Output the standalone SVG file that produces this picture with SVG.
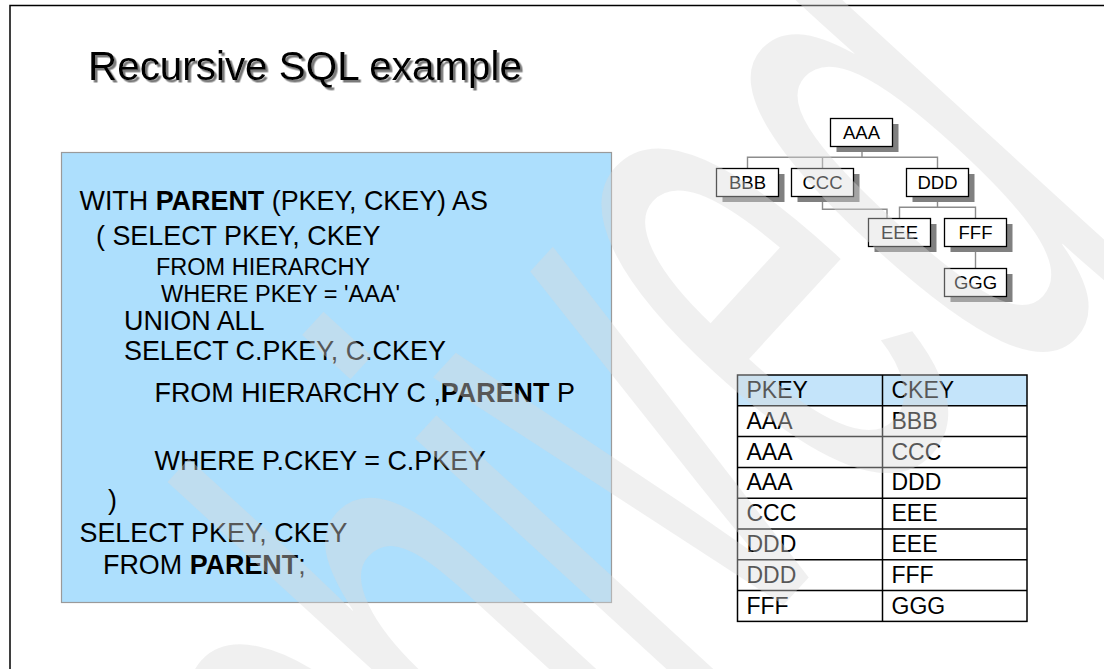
<svg xmlns="http://www.w3.org/2000/svg" width="1104" height="669" viewBox="0 0 1104 669">
  <defs>
    <filter id="titleShadow" x="-5%" y="-20%" width="110%" height="150%">
      <feDropShadow dx="2.5" dy="2.5" stdDeviation="0.7" flood-color="#7a7a7a" flood-opacity="1"/>
    </filter>
  </defs>
  <style>
    text { font-family: "Liberation Sans", Arial, sans-serif; fill: #000; }
    .code { font-size: 26.9px; }
    .code-sm { font-size: 23.5px; }
    .b { font-weight: bold; }
    .node-shadow { fill: #808080; }
    .node-box { fill: #ffffff; stroke: #000; stroke-width: 1.3; }
    .node-label { font-size: 18.5px; text-anchor: middle; }
    .link { fill: none; stroke: #8c8c8c; stroke-width: 1.4; }
    .cell { font-size: 23px; }
    .grid { stroke: #000; stroke-width: 1.5; fill: none; }
    .wm { font-size: 780px; fill: #d9d9d9; fill-opacity: 0.4; }
  </style>

  <!-- page background and frame -->
  <rect x="0" y="0" width="1104" height="669" fill="#ffffff"/>
  <path d="M10 669 V5.5 H1104" fill="none" stroke="#000" stroke-width="1.5"/>

  <!-- title -->
  <g id="title">
    <text x="88" y="80" font-size="40" textLength="434" lengthAdjust="spacingAndGlyphs" filter="url(#titleShadow)">Recursive SQL example</text>
  </g>

  <!-- SQL statement panel -->
  <g id="sql-box">
    <rect x="61.5" y="152.5" width="550" height="450" fill="#addffd" stroke="#9a9a9a" stroke-width="1.2"/>
    <text class="code" x="79.5" y="210">WITH <tspan class="b">PARENT</tspan> (PKEY, CKEY) AS</text>
    <text class="code" x="96" y="245">( SELECT PKEY, CKEY</text>
    <text class="code-sm" x="156" y="275">FROM HIERARCHY</text>
    <text class="code-sm" x="161" y="302">WHERE PKEY = 'AAA'</text>
    <text class="code" x="124" y="330">UNION ALL</text>
    <text class="code" x="124" y="360">SELECT C.PKEY, C.CKEY</text>
    <text class="code" x="154.5" y="402">FROM HIERARCHY C ,<tspan class="b">PARENT</tspan> P</text>
    <text class="code" x="154.5" y="470">WHERE P.CKEY = C.PKEY</text>
    <text class="code" x="108" y="509">)</text>
    <text class="code" x="79.5" y="542">SELECT PKEY, CKEY</text>
    <text class="code" x="103" y="574">FROM <tspan class="b">PARENT</tspan>;</text>
  </g>

  <!-- hierarchy tree connectors -->
  <g id="connectors">
    <path class="link" d="M862 146.5 V157.3 M747.5 168.5 V157.3 H937.5 V168.5 M822.5 157.3 V168.5"/>
    <path class="link" d="M822.5 196.5 V209.3 H887 V218.5"/>
    <path class="link" d="M937.5 196.5 V207.3 M899.5 218.5 V207.3 H975.5 V218.5"/>
    <path class="link" d="M975.5 246.5 V268.5"/>
  </g>

  <!-- hierarchy tree nodes -->
  <g id="node-aaa">
    <rect class="node-shadow" x="836.5" y="124" width="62" height="28"/>
    <rect class="node-box" x="830.5" y="118.5" width="62" height="28"/>
    <text class="node-label" x="861.5" y="139.2">AAA</text>
  </g>
  <g id="node-bbb">
    <rect class="node-shadow" x="722.5" y="174" width="62" height="28"/>
    <rect class="node-box" x="716.5" y="168.5" width="62" height="28"/>
    <text class="node-label" x="747.5" y="189.2">BBB</text>
  </g>
  <g id="node-ccc">
    <rect class="node-shadow" x="797.5" y="174" width="62" height="28"/>
    <rect class="node-box" x="791.5" y="168.5" width="62" height="28"/>
    <text class="node-label" x="822.5" y="189.2">CCC</text>
  </g>
  <g id="node-ddd">
    <rect class="node-shadow" x="912.5" y="174" width="62" height="28"/>
    <rect class="node-box" x="906.5" y="168.5" width="62" height="28"/>
    <text class="node-label" x="937.5" y="189.2">DDD</text>
  </g>
  <g id="node-eee">
    <rect class="node-shadow" x="874.5" y="224" width="62" height="28"/>
    <rect class="node-box" x="868.5" y="218.5" width="62" height="28"/>
    <text class="node-label" x="899.5" y="239.2">EEE</text>
  </g>
  <g id="node-fff">
    <rect class="node-shadow" x="950.5" y="224" width="62" height="28"/>
    <rect class="node-box" x="944.5" y="218.5" width="62" height="28"/>
    <text class="node-label" x="975.5" y="239.2">FFF</text>
  </g>
  <g id="node-ggg">
    <rect class="node-shadow" x="950.5" y="274" width="62" height="28"/>
    <rect class="node-box" x="944.5" y="268.5" width="62" height="28"/>
    <text class="node-label" x="975.5" y="289.2">GGG</text>
  </g>

  <!-- result table -->
  <g id="result-table">
    <rect x="737.5" y="375" width="289.5" height="30.8" fill="#c4e4fa"/>
    <rect x="737.5" y="405.8" width="289.5" height="215.6" fill="#ffffff"/>
    <rect class="grid" x="737.5" y="375" width="289.5" height="246.4"/>
    <path class="grid" d="M882.5 375 V621.4 M737.5 405.8 H1027 M737.5 436.6 H1027 M737.5 467.4 H1027 M737.5 498.2 H1027 M737.5 529 H1027 M737.5 559.8 H1027 M737.5 590.6 H1027"/>
    <text class="cell" x="746.5" y="398">PKEY</text>
    <text class="cell" x="891.5" y="398">CKEY</text>
    <text class="cell" x="746.5" y="428.8">AAA</text>
    <text class="cell" x="891.5" y="428.8">BBB</text>
    <text class="cell" x="746.5" y="459.6">AAA</text>
    <text class="cell" x="891.5" y="459.6">CCC</text>
    <text class="cell" x="746.5" y="490.4">AAA</text>
    <text class="cell" x="891.5" y="490.4">DDD</text>
    <text class="cell" x="746.5" y="521.2">CCC</text>
    <text class="cell" x="891.5" y="521.2">EEE</text>
    <text class="cell" x="746.5" y="552">DDD</text>
    <text class="cell" x="891.5" y="552">EEE</text>
    <text class="cell" x="746.5" y="582.8">DDD</text>
    <text class="cell" x="891.5" y="582.8">FFF</text>
    <text class="cell" x="746.5" y="613.6">FFF</text>
    <text class="cell" x="891.5" y="613.6">GGG</text>
  </g>

  <!-- translucent diagonal watermark laid over the page -->
  <g id="watermark">
    <text class="wm" transform="translate(202.5,1280.4) rotate(-47.5) scale(0.4615,1)">Archi<tspan dy="-28">ve</tspan><tspan dy="28">d</tspan></text>
  </g>
</svg>
